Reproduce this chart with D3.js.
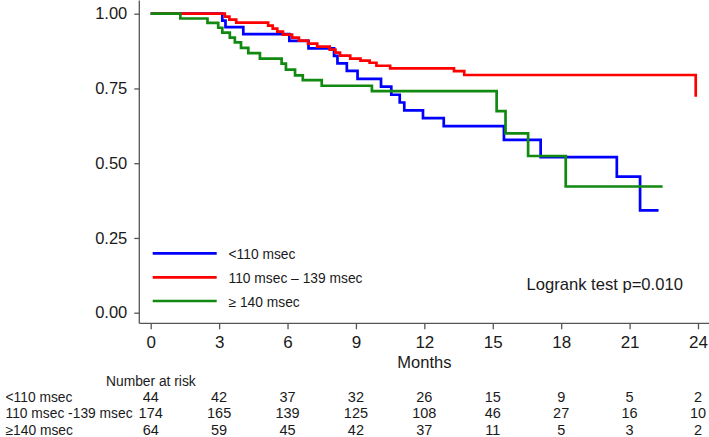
<!DOCTYPE html>
<html><head><meta charset="utf-8">
<script src="https://cdn.jsdelivr.net/npm/d3@7"></script>
<style>
html,body{margin:0;padding:0;background:#fff;}
svg{display:block;font-family:"Liberation Sans",Arial,sans-serif;}
</style></head>
<body><svg id="c" width="709" height="437"></svg>
<script>
// ---- data ----
const groups = ["<110 msec", "110 msec \u2013 139 msec", "\u2265 140 msec"];
const riskLabels = ["<110 msec", "110 msec -139 msec", "\u2265140 msec"];
const colors = ["#0000ff", "#ff0000", "#128a12"];
// Kaplan-Meier steps: [month, survival]
const blueSteps = [[0,1],[3.14,0.977],[3.28,0.955],[4.06,0.932],[6.08,0.909],[6.92,0.884],[8.04,0.859],[8.19,0.834],[8.6,0.809],[9.07,0.782],[10.1,0.756],[10.55,0.729],[10.92,0.703],[11.12,0.677],[11.94,0.651],[12.85,0.624],[15.49,0.578],[17.1,0.520],[20.44,0.455],[21.46,0.342]];
const blueEnd = 22.27;
const redSteps = [[0,1],[3.25,0.99],[3.45,0.98],[3.75,0.97],[5.15,0.96],[5.35,0.95],[5.55,0.94],[5.8,0.93],[6.2,0.92],[6.5,0.91],[6.9,0.90],[7.3,0.89],[7.85,0.88],[8.1,0.87],[8.3,0.86],[8.75,0.85],[9.2,0.843],[9.6,0.836],[9.9,0.826],[10.5,0.817],[13.3,0.808],[13.75,0.795],[23.9,0.722]];
const redEnd = 23.9;
const greenSteps = [[0,1],[1.3,0.984],[2.49,0.969],[2.96,0.953],[3.14,0.937],[3.47,0.92],[3.69,0.904],[3.96,0.886],[4.28,0.868],[4.79,0.85],[5.74,0.833],[5.93,0.813],[6.33,0.794],[6.67,0.778],[7.5,0.759],[9.7,0.741],[15.17,0.674],[15.56,0.6],[16.55,0.524],[18.2,0.422]];
const greenEnd = 22.45;
const xTicks = [0,3,6,9,12,15,18,21,24];
const yTicks = [0,0.25,0.5,0.75,1];
const riskBlue = [44,42,37,32,26,15,9,5,2];
const riskRed = [174,165,139,125,108,46,27,16,10];
const riskGreen = [64,59,45,42,37,11,5,3,2];
const pText = "Logrank test p=0.010";

// ---- drawing ----
const svg = d3.select("#c");
const x = d3.scaleLinear().domain([0,24]).range([150.7,698]);
const y = d3.scaleLinear().domain([0,1]).range([312.7,13.7]);
const axisColor = "#555";
const axX = 139.3, axY = 323.3;
const txt = "#1a1a1a";

// axis lines
svg.append("line").attr("x1",axX).attr("x2",axX).attr("y1",0.5).attr("y2",axY)
  .attr("stroke",axisColor).attr("stroke-width",1.3);
svg.append("line").attr("x1",axX).attr("x2",709).attr("y1",axY).attr("y2",axY)
  .attr("stroke",axisColor).attr("stroke-width",1.3);

const yAxis = svg.append("g").attr("transform",`translate(${axX},0)`)
  .call(d3.axisLeft(y).tickValues(yTicks).tickFormat(d3.format(".2f")).tickSize(5).tickPadding(7));
yAxis.select(".domain").remove();
yAxis.selectAll("line").attr("stroke",axisColor).attr("stroke-width",1.3);
yAxis.selectAll("text").attr("font-size",16.5).attr("fill",txt).attr("font-family","Liberation Sans, Arial, sans-serif");

const xAxis = svg.append("g").attr("transform",`translate(0,${axY})`)
  .call(d3.axisBottom(x).tickValues(xTicks).tickSize(6).tickPadding(7.1));
xAxis.select(".domain").remove();
xAxis.selectAll("line").attr("stroke",axisColor).attr("stroke-width",1.3);
xAxis.selectAll("text").attr("font-size",17).attr("fill",txt).attr("font-family","Liberation Sans, Arial, sans-serif");

svg.append("text").attr("x",x(12)).attr("y",367.8).attr("text-anchor","middle")
  .attr("font-size",16.5).attr("fill",txt).text("Months");

// curves
const line = d3.line().x(d=>x(d[0])).y(d=>y(d[1])).curve(d3.curveStepAfter);
const series = [[blueSteps,blueEnd],[redSteps,redEnd],[greenSteps,greenEnd]];
series.forEach(([s,end],i)=>{
  const pts = s.concat([[end, s[s.length-1][1]]]);
  svg.append("path").attr("d",line(pts)).attr("fill","none")
    .attr("stroke",colors[i]).attr("stroke-width",2.7).attr("stroke-linejoin","miter");
});

// legend
const legY = [253.3,277.3,301];
groups.forEach((g,i)=>{
  svg.append("line").attr("x1",152.7).attr("x2",216.7).attr("y1",legY[i]).attr("y2",legY[i])
    .attr("stroke",colors[i]).attr("stroke-width",2.7);
  svg.append("text").attr("x",228.5).attr("y",legY[i]+5.5).attr("font-size",13.8)
    .attr("fill",txt).text(g);
});

svg.append("text").attr("x",526.5).attr("y",290).attr("font-size",16.6).attr("fill",txt).text(pText);

// number at risk
svg.append("text").attr("x",106).attr("y",386).attr("font-size",13.8).attr("fill",txt).text("Number at risk");
const riskRows = [riskBlue, riskRed, riskGreen];
const rowY = [401.7,418.3,434.5];
riskRows.forEach((row,i)=>{
  svg.append("text").attr("x",5.5).attr("y",rowY[i]).attr("font-size",13.8).attr("fill",txt).text(riskLabels[i]);
  svg.selectAll(null).data(row).enter().append("text")
    .attr("x",(d,j)=>x(xTicks[j])).attr("y",rowY[i]).attr("text-anchor","middle")
    .attr("font-size",14.5).attr("fill",txt).text(d=>d);
});
</script></body></html>
